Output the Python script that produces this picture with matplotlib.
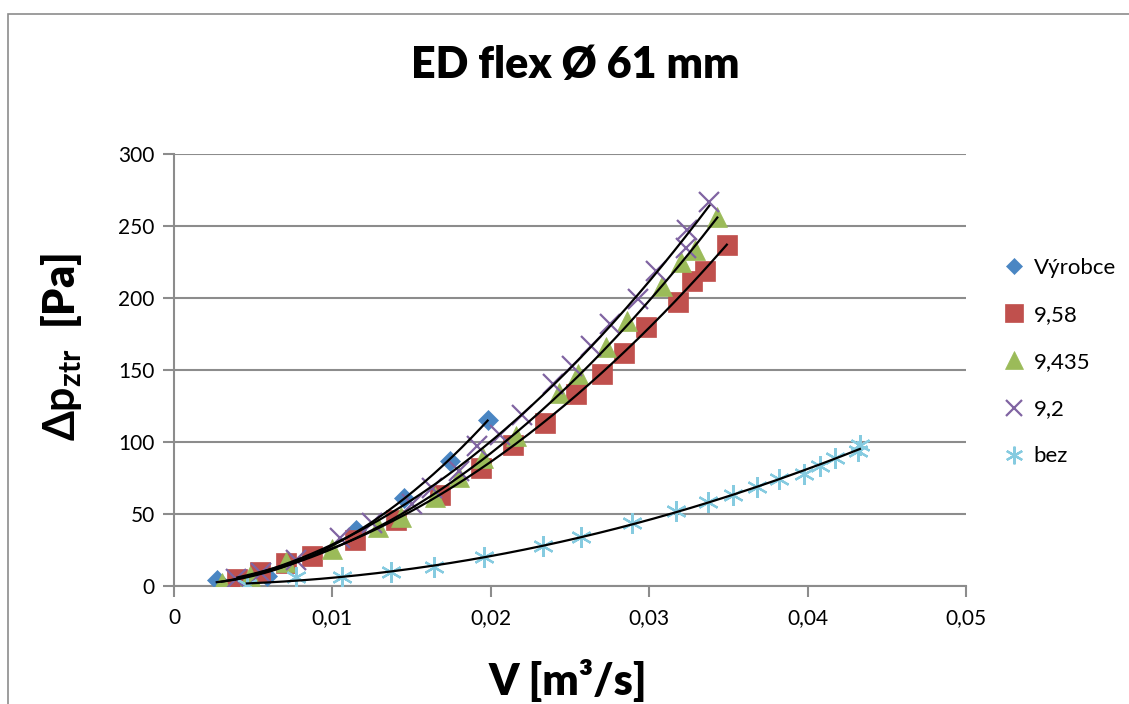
import numpy as np
import matplotlib
matplotlib.use('Agg')
import matplotlib.pyplot as plt
from matplotlib.patches import Rectangle
from matplotlib.ticker import FuncFormatter

plt.rcParams['font.family'] = ['Lato', 'DejaVu Sans']
plt.rcParams['mathtext.fontset'] = 'custom'
plt.rcParams['mathtext.rm'] = 'Lato'
plt.rcParams['mathtext.bf'] = 'Lato:bold'

# Data (V in m3/s, dp in Pa)
x_vyrobce = [0.0027, 0.0059, 0.0115, 0.0145, 0.0174, 0.0198]
y_vyrobce = [4, 7, 39, 61, 87, 115]

x_958 = [0.0040, 0.0054, 0.0071, 0.0087, 0.0114, 0.0140, 0.0168, 0.0194, 0.0214,
         0.0234, 0.0254, 0.0270, 0.0284, 0.0298, 0.0318, 0.0327, 0.0335, 0.0349]
y_958 = [5, 10, 16, 21, 32, 46, 63, 82, 98, 113, 133, 147, 162, 180, 197, 212, 219, 237]

x_9435 = [0.0030, 0.0048, 0.0071, 0.0100, 0.0129, 0.0143, 0.0165, 0.0180, 0.0195,
          0.0216, 0.0243, 0.0255, 0.0273, 0.0286, 0.0308, 0.0320, 0.0329, 0.0343]
y_9435 = [2, 7, 17, 26, 41, 48, 62, 76, 89, 104, 134, 147, 166, 184, 208, 225, 233, 256]

x_92 = [0.0039, 0.0055, 0.0077, 0.0105, 0.0125, 0.0150, 0.0163, 0.0180, 0.0191, 0.0206,
        0.0220, 0.0239, 0.0251, 0.0263, 0.0275, 0.0293, 0.0304, 0.0323, 0.0324, 0.0338]
y_92 = [5, 9, 18, 33, 44, 57, 68, 80, 97, 105, 119, 140, 153, 167, 182, 199, 219, 235, 247, 267]

x_bez = [0.0046, 0.0077, 0.0106, 0.0137, 0.0164, 0.0196, 0.0233, 0.0257, 0.0289, 0.0317,
         0.0337, 0.0353, 0.0368, 0.0382, 0.0398, 0.0408, 0.0417, 0.0432, 0.0433]
y_bez = [0.5, 6, 6, 10, 13, 20, 28, 34, 43.5, 52, 58.5, 63, 69, 74, 78, 83, 89, 94, 98]

fig = plt.figure(figsize=(11.29, 7.04), dpi=100)
ax = fig.add_axes([174/1129, 1 - 586/704, (966-174)/1129, (586-154)/704])

# outer chart frame
fig.patches.append(Rectangle((8/1129, -0.1), 1.2, 1 - 13.5/704 + 0.1,
                             transform=fig.transFigure, fill=False,
                             edgecolor='#8c8c8c', linewidth=1.2))

series = [
    (x_vyrobce, y_vyrobce, 'Výrobce', 'D', '#4a86c3', 10, 'none'),
    (x_958, y_958, '9,58', 's', '#c0504d', 14.5, 'none'),
    (x_9435, y_9435, '9,435', '^', '#9bbb59', 15, 'none'),
    (x_92, y_92, '9,2', 'x', '#8064a2', 14, None),
    (x_bez, y_bez, 'bez', (6, 2, 0), '#86cbe0', 15, None),
]

for xs, ys, lab, mk, col, ms, ec in series:
    if ec is None:
        ax.plot(xs, ys, linestyle='none', marker=mk, markersize=ms, color=col,
                markeredgewidth=1.6, label=lab, zorder=3)
    else:
        ax.plot(xs, ys, linestyle='none', marker=mk, markersize=ms, color=col,
                markeredgecolor=col, markeredgewidth=0.5, label=lab, zorder=3)

# quadratic trendlines
for xs, ys, *_ in series:
    c = np.polyfit(xs, ys, 2)
    xx = np.linspace(min(xs), max(xs), 200)
    ax.plot(xx, np.polyval(c, xx), color='black', linewidth=1.6, zorder=4)

ax.set_xlim(0, 0.05)
ax.set_ylim(0, 300)
ax.set_xticks(np.arange(0, 0.051, 0.01))
ax.set_yticks(np.arange(0, 301, 50))
ax.xaxis.set_major_formatter(FuncFormatter(lambda v, p: '0' if v == 0 else f'{v:.2f}'.replace('.', ',')))
ax.yaxis.grid(True, color='#8c8c8c', linewidth=1.5)
ax.set_axisbelow(True)
for s in ['top', 'right']:
    ax.spines[s].set_visible(False)
for s in ['left', 'bottom']:
    ax.spines[s].set_color('#8c8c8c')
    ax.spines[s].set_linewidth(1.5)
ax.tick_params(axis='both', colors='#8c8c8c', width=1.5, length=8, labelsize=15,
               labelcolor='black', direction='out')
ax.tick_params(axis='x', pad=8)
ax.tick_params(axis='y', pad=6)

fig.text(575/1129, 1 - 65/704, 'ED flex Ø 61 mm', ha='center', va='center',
         fontsize=31, fontweight='heavy')
fig.text(568/1129, 1 - 680/704, 'V [m³/s]', ha='center', va='center',
         fontsize=31, fontweight='heavy')
fig.text(62/1129, 1 - 347/704, '$\\mathbf{\\Delta p_{ztr}}$  [Pa]', ha='center', va='center',
         rotation=90, fontsize=31, fontweight='heavy')

ax.legend(loc='center left', bbox_to_anchor=(1.035, 0.518), frameon=False, fontsize=16,
          handletextpad=0.4, labelspacing=1.22, handlelength=1.0, borderaxespad=0,
          markerscale=0.85)

fig.savefig('out.png', dpi=100)
